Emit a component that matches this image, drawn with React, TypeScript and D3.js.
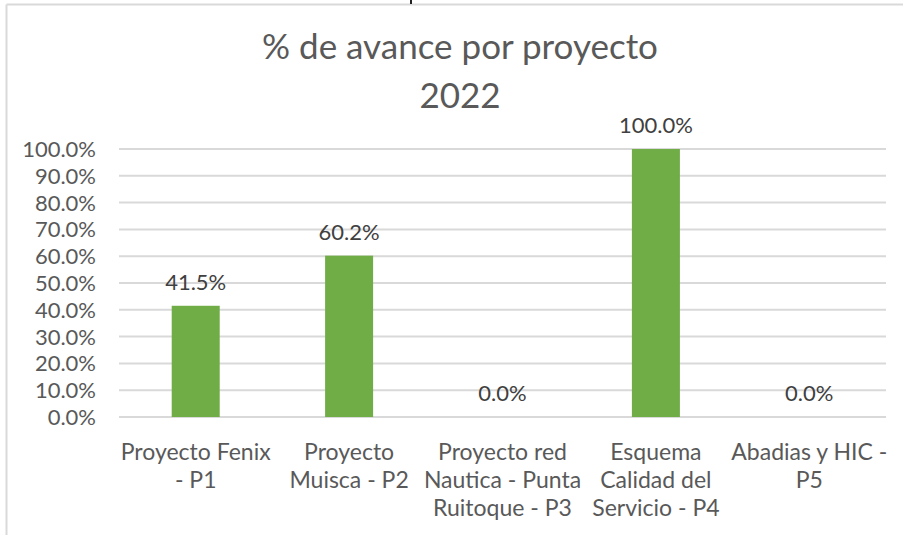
import React from "react";
import * as d3 from "d3";

const categories = ["P1", "P2", "P3", "P4", "P5"];
const categoryLines = [
  ["Proyecto Fenix", "- P1"],
  ["Proyecto", "Muisca - P2"],
  ["Proyecto red", "Nautica - Punta", "Ruitoque - P3"],
  ["Esquema", "Calidad del", "Servicio - P4"],
  ["Abadias y HIC -", "P5"],
];
const values = [0.415, 0.602, 0.0, 1.0, 0.0];
const yTicks = [0, 0.1, 0.2, 0.3, 0.4, 0.5, 0.6, 0.7, 0.8, 0.9, 1.0];
const titleLines = ["% de avance por proyecto", "2022"];

const W = 903;
const H = 535;
const FONT = "Lato, 'Open Sans', sans-serif";
const TEXT = "#595959";

export default function App() {
  const x = d3
    .scaleBand<string>()
    .domain(categories)
    .range([119, 886])
    .paddingInner(0.687)
    .paddingOuter(0.3435);
  const y = d3.scaleLinear().domain([0, 1]).range([417, 149]);
  const fmt = d3.format(".1%");

  return (
    <svg
      width={W}
      height={H}
      style={{ position: "absolute", left: 0, top: 0, background: "#fff" }}
      fontFamily={FONT}
    >
      <rect x={0} y={0} width={W} height={H} fill="#fff" />
      {/* chart border */}
      <line x1={6.5} y1={4.5} x2={W} y2={4.5} stroke="#d9d9d9" strokeWidth={2} />
      <line x1={6.5} y1={4.5} x2={6.5} y2={H} stroke="#d9d9d9" strokeWidth={2} />
      <rect x={410} y={0} width={2} height={4} fill="#222" />

      {/* title */}
      {titleLines.map((t, i) => (
        <text
          key={i}
          x={460}
          y={59 + i * 49}
          textAnchor="middle"
          fontSize={35}
          fill={TEXT}
        >
          {t}
        </text>
      ))}

      {/* gridlines */}
      {yTicks.map((t) => (
        <line
          key={t}
          x1={119}
          x2={886}
          y1={y(t)}
          y2={y(t)}
          stroke="#d9d9d9"
          strokeWidth={2}
        />
      ))}

      {/* y tick labels */}
      {yTicks.map((t) => (
        <text
          key={"l" + t}
          x={96}
          y={y(t) + 8}
          textAnchor="end"
          fontSize={22}
          fill={TEXT}
        >
          {fmt(t)}
        </text>
      ))}

      {/* bars */}
      {categories.map((c, i) => (
        <rect
          key={c}
          x={x(c)!}
          y={y(values[i])}
          width={x.bandwidth()}
          height={y(0) - y(values[i])}
          fill="#70ad47"
        />
      ))}

      {/* data labels */}
      {categories.map((c, i) => (
        <text
          key={"d" + c}
          x={x(c)! + x.bandwidth() / 2}
          y={y(values[i]) - 16}
          textAnchor="middle"
          fontSize={22}
          fill="#404040"
        >
          {fmt(values[i])}
        </text>
      ))}

      {/* category labels */}
      {categories.map((c, i) => (
        <text
          key={"c" + c}
          x={x(c)! + x.bandwidth() / 2}
          textAnchor="middle"
          fontSize={23}
          fill={TEXT}
        >
          {categoryLines[i].map((ln, j) => (
            <tspan key={j} x={x(c)! + x.bandwidth() / 2} y={460 + j * 28}>
              {ln}
            </tspan>
          ))}
        </text>
      ))}
    </svg>
  );
}
